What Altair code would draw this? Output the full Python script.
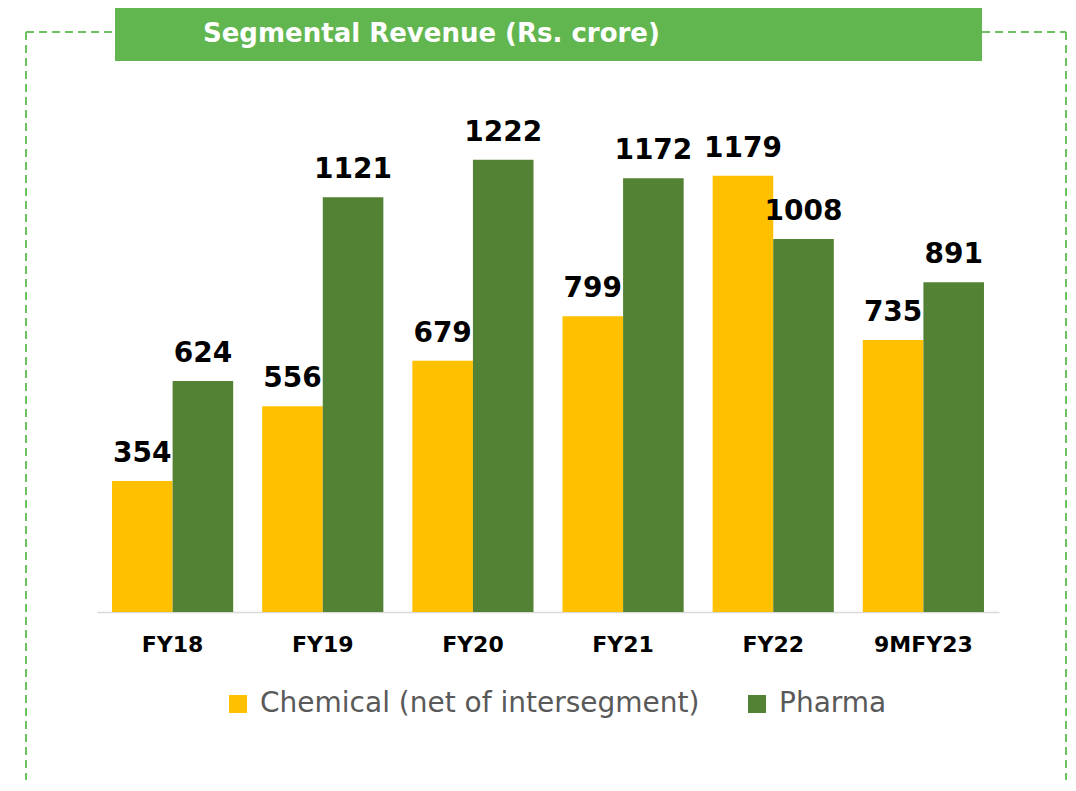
import altair as alt
import pandas as pd

categories = ["FY18", "FY19", "FY20", "FY21", "FY22", "9MFY23"]
series_names = ["Chemical (net of intersegment)", "Pharma"]
chemical = [354, 556, 679, 799, 1179, 735]
pharma = [624, 1121, 1222, 1172, 1008, 891]
colors = ["#FFC000", "#548235"]
title_text = "Segmental Revenue (Rs. crore)"

rows = []
for c, v1, v2 in zip(categories, chemical, pharma):
    rows.append({"cat": c, "series": series_names[0], "value": v1})
    rows.append({"cat": c, "series": series_names[1], "value": v2})
df = pd.DataFrame(rows)

W, H = 902, 518
FONT = "DejaVu Sans"

xenc = alt.X("cat:N", sort=categories,
             scale=alt.Scale(paddingInner=0.193, paddingOuter=0.1),
             axis=alt.Axis(title=None, labelAngle=0, ticks=False, domainColor="#d9d9d9",
                           domainWidth=1.5, labelFont=FONT, labelFontSize=22,
                           labelFontWeight="bold", labelColor="#000000", labelPadding=22))
xoff = alt.XOffset("series:N", scale=alt.Scale(domain=series_names, paddingInner=0, paddingOuter=0))
yenc = alt.Y("value:Q", scale=alt.Scale(domain=[0, 1400], nice=False), axis=None)

base = alt.Chart(df)
bars = base.mark_bar().encode(
    x=xenc, xOffset=xoff, y=yenc,
    color=alt.Color("series:N", scale=alt.Scale(domain=series_names, range=colors),
                    legend=alt.Legend(title=None, orient="none", legendX=127, legendY=596,
                                      direction="horizontal", symbolType="square",
                                      symbolSize=324, symbolStrokeWidth=0,
                                      labelFont=FONT, labelFontSize=28, labelColor="#595959",
                                      labelLimit=700, columnPadding=43, labelOffset=8))
)
labels = base.mark_text(font=FONT, fontSize=28, fontWeight="bold", color="#000000",
                        baseline="alphabetic", dy=-19).encode(
    x=xenc, xOffset=xoff, y=yenc, text=alt.Text("value:Q")
)

tdf = pd.DataFrame({"t": [title_text]})
title_box = alt.Chart(tdf).mark_rect(color="#62b650").encode(
    x=alt.value(18), x2=alt.value(885), y=alt.value(-89), y2=alt.value(-33))
title_txt = alt.Chart(tdf).mark_text(font=FONT, fontSize=26, fontWeight="bold", color="#ffffff",
                                     align="left", baseline="middle").encode(
    x=alt.value(106), y=alt.value(-60), text="t:N")

dash = dict(color="#6cc160", strokeWidth=2, strokeDash=[8, 5])
r1 = alt.Chart(tdf).mark_rule(**dash).encode(x=alt.value(-71), x2=alt.value(18), y=alt.value(-62), y2=alt.value(-62))
r2 = alt.Chart(tdf).mark_rule(**dash).encode(x=alt.value(885), x2=alt.value(969), y=alt.value(-62), y2=alt.value(-62))
r3 = alt.Chart(tdf).mark_rule(**dash).encode(x=alt.value(-71), x2=alt.value(-71), y=alt.value(-62), y2=alt.value(710))
r4 = alt.Chart(tdf).mark_rule(**dash).encode(x=alt.value(969), x2=alt.value(969), y=alt.value(-62), y2=alt.value(710))

chart = alt.layer(r1, r2, r3, r4, title_box, title_txt, bars, labels).properties(
    width=W, height=H,
    background="#ffffff",
    autosize=alt.AutoSizeParams(type="none"),
    padding={"left": 89, "top": 86, "right": 69, "bottom": 168},
).configure_view(strokeWidth=0, stroke="transparent")

chart.save("out.html", embed_options={"renderer": "svg", "actions": False})
